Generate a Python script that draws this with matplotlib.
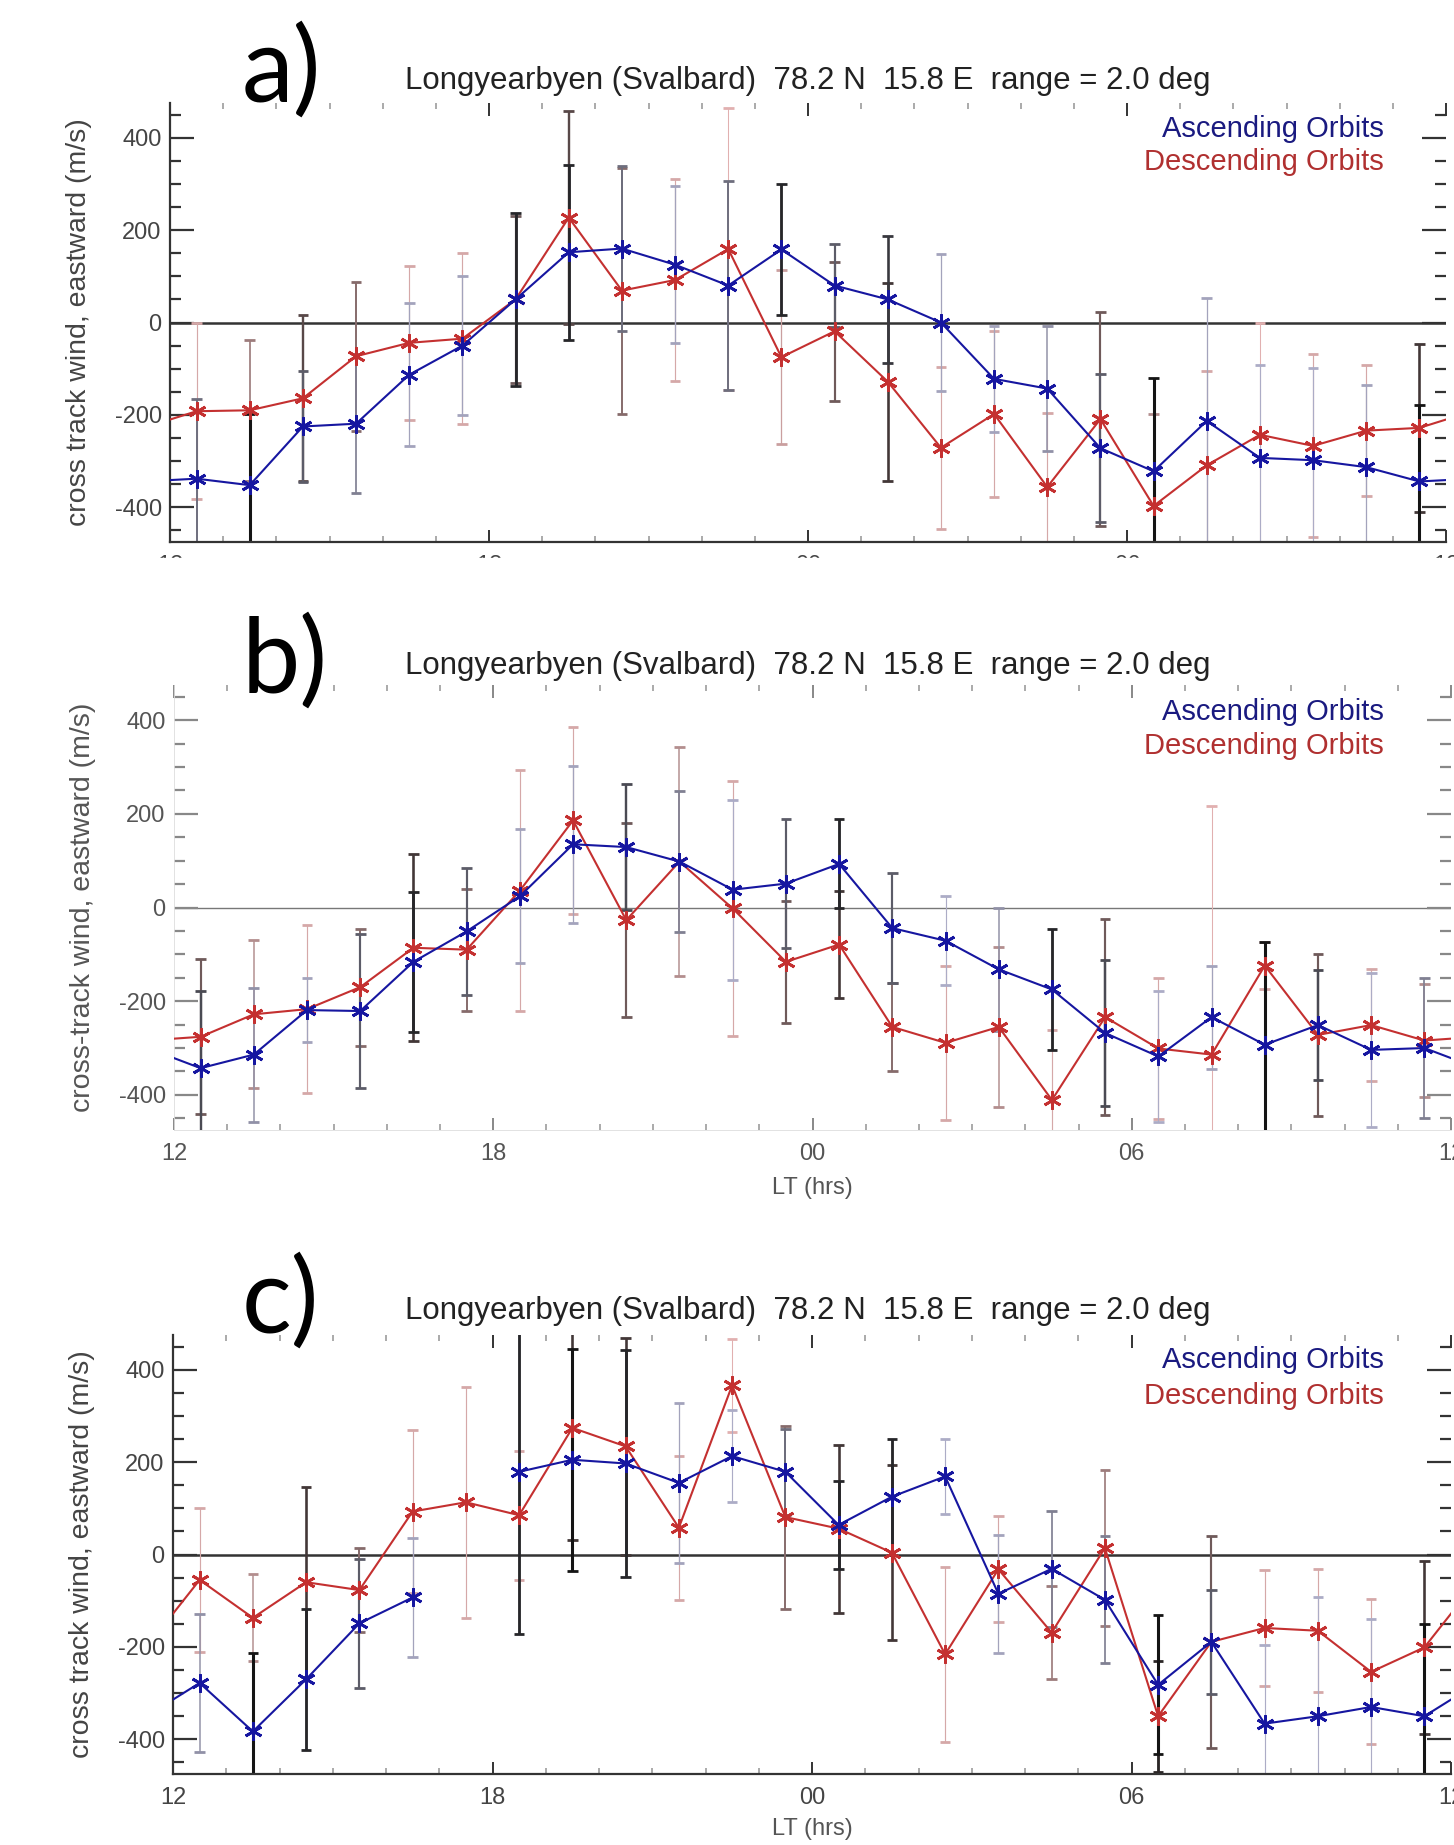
import numpy as np
import matplotlib.pyplot as plt
from matplotlib.patches import Rectangle
from matplotlib.ticker import FixedLocator, MultipleLocator

# Output size in pixels (dpi 100)
W, H = 1454, 1845

plt.rcParams['font.family'] = ['Liberation Sans', 'DejaVu Sans']

# Bin centres in local time (hours, 12 LT to 12 LT next day)
hours = [12.5, 13.5, 14.5, 15.5, 16.5, 17.5, 18.5, 19.5, 20.5, 21.5, 22.5, 23.5,
         24.5, 25.5, 26.5, 27.5, 28.5, 29.5, 30.5, 31.5, 32.5, 33.5, 34.5, 35.5]
hourTicks = [12, 18, 24, 30, 36]
hourLabels = ["12", "18", "00", "06", "12"]
windTicks = [-400, -200, 0, 200, 400]
windLabels = ["-400", "-200", "0", "200", "400"]

titleText = "Longyearbyen (Svalbard)  78.2 N  15.8 E  range = 2.0 deg"
ylabels = ["cross track wind, eastward (m/s)",
           "cross-track wind, eastward (m/s)",
           "cross track wind, eastward (m/s)"]
panelLetters = ["a)", "b)", "c)"]

# Panel a
a_asc = [-338, -352, -225, -219, -113, -50, 50, 152, 160, 125, 80, 158,
         80, 50, 0, -122, -143, -272, -322, -213, -293, -298, -313, -344]
a_asc_err = [173, 155, 121, 150, 155, 150, 188, 189, 179, 170, 226, 142,
             90, 137, 148, 115, 135, 160, 202, 265, 200, 200, 177, 165]
a_asc_w = [0.5, 1.0, 0.6, 0.4, 0.2, 0.2, 0.9, 0.9, 0.5, 0.2, 0.5, 0.9,
           0.6, 0.8, 0.2, 0.2, 0.3, 0.6, 1.0, 0.2, 0.15, 0.15, 0.2, 1.0]
a_dsc = [-192, -190, -164, -73, -44, -35, 50, 227, 69, 92, 159, -75,
         -19, -128, -271, -198, -356, -209, -397, -309, -243, -267, -234, -228]
a_dsc_err = [190, 152, 180, 161, 167, 185, 180, 231, 266, 219, 305, 188,
             150, 214, 175, 179, 160, 232, 200, 205, 243, 198, 142, 182]
a_dsc_w = [0.15, 0.4, 0.7, 0.5, 0.15, 0.15, 0.6, 0.7, 0.5, 0.15, 0.1, 0.2,
           0.6, 0.8, 0.15, 0.15, 0.15, 0.6, 0.3, 0.15, 0.1, 0.15, 0.15, 0.8]

# Panel b
b_asc = [-343, -314, -219, -221, -116, -51, 24, 135, 129, 98, 38, 51,
         93, -44, -71, -132, -175, -268, -318, -234, -293, -251, -304, -300]
b_asc_err = [165, 143, 68, 165, 150, 135, 143, 168, 135, 150, 192, 137,
             95, 118, 95, 132, 130, 155, 140, 110, 220, 118, 165, 150]
b_asc_w = [0.7, 0.3, 0.2, 0.6, 0.9, 0.6, 0.2, 0.2, 0.7, 0.4, 0.15, 0.6,
           0.9, 0.6, 0.15, 0.3, 0.9, 0.7, 0.15, 0.2, 1.0, 0.7, 0.15, 0.4]
b_dsc = [-276, -228, -217, -170, -86, -90, 36, 186, -27, 98, -2, -116,
         -79, -255, -289, -255, -411, -234, -301, -314, -124, -272, -251, -284]
b_dsc_err = [165, 158, 180, 125, 200, 130, 258, 200, 207, 245, 272, 130,
             115, 93, 164, 170, 150, 210, 150, 530, 50, 173, 120, 120]
b_dsc_w = [0.6, 0.3, 0.15, 0.5, 0.8, 0.5, 0.15, 0.15, 0.6, 0.3, 0.15, 0.6,
           0.8, 0.5, 0.15, 0.3, 0.15, 0.6, 0.15, 0.1, 0.15, 0.6, 0.15, 0.3]

# Panel c (no ascending data in the 17-18 LT bin)
c_asc = [-278, -383, -270, -149, -93, np.nan, 179, 205, 197, 155, 213, 179,
         64, 125, 169, -85, -31, -98, -282, -189, -366, -350, -330, -350]
c_asc_err = [150, 170, 152, 140, 128, 0, 350, 240, 245, 173, 100, 93,
             95, 125, 82, 128, 125, 137, 150, 112, 170, 257, 190, 200]
c_asc_w = [0.3, 1.0, 0.9, 0.6, 0.2, 0.0, 0.9, 1.0, 0.9, 0.2, 0.15, 0.5,
           0.9, 0.9, 0.15, 0.2, 0.4, 0.4, 1.0, 0.6, 0.15, 0.15, 0.15, 1.0]
c_dsc = [-55, -137, -60, -77, 93, 113, 85, 274, 234, 58, 366, 81,
         56, 4, -216, -32, -169, 14, -350, -189, -159, -165, -254, -201]
c_dsc_err = [156, 94, 205, 90, 177, 250, 140, 242, 234, 156, 100, 198,
             182, 190, 190, 115, 100, 168, 120, 230, 125, 133, 157, 187]
c_dsc_w = [0.15, 0.3, 0.8, 0.5, 0.15, 0.15, 0.15, 0.8, 0.8, 0.15, 0.1, 0.5,
           0.8, 0.8, 0.15, 0.15, 0.4, 0.4, 0.9, 0.6, 0.15, 0.15, 0.15, 0.8]

BLUE = '#1616a0'
RED = '#c43030'
BLUE_LIGHT = (0.78, 0.78, 0.90)
RED_LIGHT = (0.97, 0.76, 0.76)
DARK = (0.08, 0.08, 0.08)

fig = plt.figure(figsize=(W / 100, H / 100), dpi=100)


# Converts a pixel box (top-left origin) into figure coordinates
def box(left, top, right, bottom):
    return [left / W, 1 - bottom / H, (right - left) / W, (bottom - top) / H]


def figText(x, y, s, **kw):
    return fig.text(x / W, 1 - y / H, s, **kw)


# The curves are periodic in local time, so the end points are repeated one
# day away and clipped by the axes, as in the original plots
def wrap(values):
    xs = [hours[-1] - 24] + list(hours) + [hours[0] + 24]
    ys = [values[-1]] + list(values) + [values[0]]
    return xs, ys


# Error bars: darkness and thickness follow the weight of each bin
def drawErrorBars(ax, values, errs, weights, light):
    for x, v, e, w in zip(hours, values, errs, weights):
        if np.isnan(v):
            continue
        col = tuple(l + (d - l) * w for l, d in zip(light, DARK))
        ax.vlines(x, v - e, v + e, color=col, lw=0.6 + 1.6 * w, zorder=2)
        ax.hlines([v - e, v + e], x - 0.1, x + 0.1, color=col, lw=2.0, zorder=2)


def drawSeries(ax, values, color, z):
    xs, ys = wrap(values)
    ax.plot(xs, ys, color=color, lw=1.5, zorder=z)
    ax.plot(hours, values, ls='none', marker=(6, 2, 0), ms=13, mew=2.0,
            color=color, zorder=z + 0.5)


def setupAxes(ax, ylabel, faint):
    ax.set_xlim(12, 36)
    ax.set_ylim(-475, 475)
    frame = '#dddddd' if faint else '#333333'
    tickCol = '#888888' if faint else '#333333'
    labCol = '#555555' if faint else '#444444'
    ax.axhline(0, color='#777777' if faint else '#333333',
               lw=1.0 if faint else 1.8, zorder=1)
    for side in ['top', 'right']:
        ax.spines[side].set_visible(False)
    for side in ['left', 'bottom']:
        ax.spines[side].set_color(frame)
        ax.spines[side].set_linewidth(0.6 if faint else 1.6)

    ax.xaxis.set_major_locator(FixedLocator(hourTicks))
    ax.set_xticklabels(hourLabels)
    ax.xaxis.set_minor_locator(MultipleLocator(1))
    ax.yaxis.set_major_locator(FixedLocator(windTicks))
    ax.set_yticklabels(windLabels)
    ax.yaxis.set_minor_locator(MultipleLocator(50))

    ax.tick_params(axis='y', which='major', direction='in', length=17,
                   width=1.6, color=tickCol, right=True, labelsize=17,
                   labelcolor=labCol, pad=6)
    ax.tick_params(axis='y', which='minor', direction='in', length=8,
                   width=1.6, color=tickCol, right=True)
    ax.tick_params(axis='x', which='major', direction='in', length=9,
                   width=1.4, color=tickCol, top=True, labelsize=17,
                   labelcolor=labCol, pad=9)
    ax.tick_params(axis='x', which='minor', direction='in', length=4,
                   width=1.4, color='#aaaaaa', top=True)
    ax.set_ylabel(ylabel, fontsize=20.5, color=labCol, labelpad=16)


panels = [
    (box(170, 103, 1446, 542), a_asc, a_asc_err, a_asc_w, a_dsc, a_dsc_err, a_dsc_w, False),
    (box(174, 685, 1451, 1130), b_asc, b_asc_err, b_asc_w, b_dsc, b_dsc_err, b_dsc_w, True),
    (box(173, 1335, 1451, 1774), c_asc, c_asc_err, c_asc_w, c_dsc, c_dsc_err, c_dsc_w, False),
]

# Pixel positions of the per-panel texts
titleY = [89, 674, 1319]
legendY = [(137, 170), (720, 754), (1368, 1404)]
letterY = [102, 693, 1333]
xlabelY = [None, 1188, 1829]

for i, (rect, asc, ascErr, ascW, dsc, dscErr, dscW, faint) in enumerate(panels):
    ax = fig.add_axes(rect)
    setupAxes(ax, ylabels[i], faint)

    drawErrorBars(ax, dsc, dscErr, dscW, RED_LIGHT)
    drawErrorBars(ax, asc, ascErr, ascW, BLUE_LIGHT)
    drawSeries(ax, dsc, RED, 3)
    drawSeries(ax, asc, BLUE, 4)

    figText(808, titleY[i], titleText, fontsize=22.5, color='#222222',
            ha='center', va='baseline')
    figText(1384, legendY[i][0], "Ascending Orbits", fontsize=21, color='#1a1a80',
            ha='right', va='baseline')
    figText(1384, legendY[i][1], "Descending Orbits", fontsize=21, color='#b03030',
            ha='right', va='baseline')
    figText(242, letterY[i], panelLetters[i], fontsize=75, color='black',
            family=['Lato', 'DejaVu Sans'], ha='left', va='baseline')
    if xlabelY[i] is not None:
        figText(812, xlabelY[i], "LT (hrs)", fontsize=17, color='#555555',
                ha='center', va='center')

# The top panel's hour labels are cut off by the panel below it
fig.add_artist(Rectangle((0, 1 - 602 / H), 1, (602 - 558) / H,
                         transform=fig.transFigure, color='white', zorder=10))

fig.savefig("out.png", dpi=100, facecolor='white')
